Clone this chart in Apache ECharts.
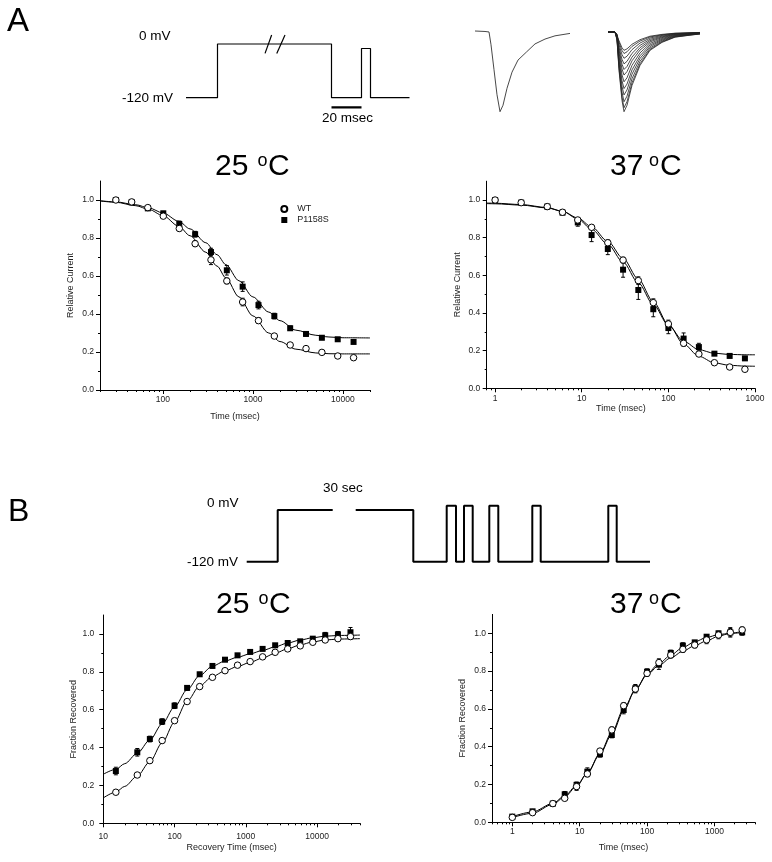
<!DOCTYPE html>
<html><head><meta charset="utf-8">
<script src="https://cdn.jsdelivr.net/npm/echarts@6/dist/echarts.min.js"></script>
<style>html,body{margin:0;padding:0;background:#fff}#c{width:772px;height:862px}</style>
</head><body><div id="c"></div>
<script>
// ---------- Data ----------
// A, 25 C : development of inactivation
const inact25Time = [30,45,68,101,152,228,342,513,769,1153,1730,2595,3892,5839,8758,13137];
const inact25WT = [1.0,0.99,0.96,0.915,0.85,0.77,0.685,0.574,0.463,0.365,0.284,0.237,0.218,0.198,0.179,0.17];
const inact25WTErr = [0.005,0.005,0.008,0.01,0.012,0.015,0.025,0.015,0.02,0.015,0.012,0.01,0.01,0.008,0.008,0.008];
const inact25Mut = [1.0,0.988,0.956,0.93,0.874,0.82,0.726,0.63,0.544,0.447,0.389,0.325,0.295,0.275,0.267,0.253];
const inact25MutErr = [0.005,0.008,0.01,0.01,0.015,0.015,0.02,0.025,0.025,0.02,0.015,0.012,0.01,0.01,0.008,0.008];
const inact25FitTime = [20,30,50,70,100,150,200,300,400,500,700,1000,1500,2000,3000,5000,7000,10000,20000];
const inact25FitWT = [0.995,0.988,0.97,0.95,0.918,0.862,0.812,0.725,0.652,0.59,0.49,0.39,0.3,0.255,0.215,0.195,0.191,0.19,0.19];
const inact25FitMut = [0.996,0.99,0.975,0.958,0.932,0.888,0.848,0.775,0.712,0.66,0.575,0.49,0.41,0.365,0.315,0.288,0.279,0.275,0.274];

// A, 37 C
const inact37Time = [1,2,4,6,9,13,20,30,45,67,100,150,225,340,510,765];
const inact37WT = [1.0,0.986,0.965,0.935,0.894,0.855,0.773,0.681,0.572,0.455,0.342,0.239,0.182,0.136,0.113,0.101];
const inact37WTErr = [0.005,0.005,0.008,0.01,0.012,0.01,0.015,0.015,0.02,0.02,0.02,0.015,0.01,0.008,0.008,0.008];
const inact37Mut = [1.0,0.986,0.965,0.933,0.881,0.814,0.74,0.63,0.522,0.42,0.32,0.264,0.219,0.184,0.172,0.159];
const inact37MutErr = [0.005,0.008,0.012,0.01,0.02,0.035,0.03,0.04,0.05,0.04,0.03,0.03,0.02,0.01,0.01,0.01];
const inact37FitTime = [0.8,1,2,4,6,9,13,20,30,45,67,100,150,225,340,510,765,1000];
const inact37FitWT = [0.981,0.98,0.973,0.958,0.94,0.905,0.858,0.78,0.69,0.58,0.46,0.34,0.235,0.17,0.135,0.122,0.118,0.117];
const inact37FitMut = [0.984,0.983,0.976,0.96,0.94,0.9,0.845,0.765,0.67,0.56,0.445,0.335,0.25,0.205,0.186,0.18,0.178,0.178];

// B, 25 C : recovery from inactivation
const rec25Time = [15,30,45,67,100,150,225,340,510,765,1150,1720,2580,3870,5800,8700,13000,19600,29400];
const rec25Mut = [0.276,0.375,0.445,0.537,0.621,0.715,0.787,0.831,0.864,0.887,0.905,0.921,0.94,0.952,0.961,0.975,0.993,0.998,1.009];
const rec25MutErr = [0.02,0.02,0.015,0.015,0.015,0.012,0.01,0.01,0.01,0.01,0.008,0.008,0.008,0.008,0.008,0.01,0.015,0.015,0.025];
const rec25WT = [0.164,0.255,0.331,0.437,0.542,0.643,0.722,0.771,0.806,0.835,0.854,0.879,0.903,0.921,0.937,0.956,0.968,0.975,0.986];
const rec25WTErr = [0.01,0.01,0.012,0.012,0.01,0.01,0.01,0.008,0.008,0.008,0.008,0.008,0.008,0.008,0.01,0.01,0.01,0.01,0.012];
const rec25FitTime = [10,15,20,30,45,67,100,150,225,340,510,765,1150,1720,2580,3870,5800,8700,13000,20000,40000];
const rec25FitMut = [0.259,0.285,0.315,0.37,0.44,0.525,0.615,0.705,0.78,0.83,0.857,0.877,0.895,0.913,0.932,0.952,0.968,0.98,0.988,0.992,0.994];
const rec25FitWT = [0.134,0.165,0.195,0.25,0.325,0.425,0.535,0.645,0.725,0.775,0.805,0.828,0.85,0.873,0.898,0.922,0.942,0.958,0.968,0.973,0.975];

// B, 37 C
const rec37Time = [1,2,4,6,9,13,20,30,45,67,100,150,225,340,510,765,1150,1720,2580];
const rec37Mut = [0.03,0.058,0.099,0.148,0.198,0.268,0.36,0.462,0.594,0.709,0.797,0.834,0.896,0.935,0.952,0.982,1.0,1.005,1.005];
const rec37MutErr = [0.01,0.01,0.01,0.015,0.015,0.02,0.015,0.015,0.02,0.02,0.015,0.025,0.015,0.015,0.01,0.01,0.01,0.02,0.015];
const rec37WT = [0.026,0.051,0.099,0.127,0.189,0.256,0.377,0.489,0.617,0.705,0.788,0.845,0.885,0.915,0.938,0.965,0.991,1.005,1.018];
const rec37WTErr = [0.01,0.01,0.01,0.01,0.02,0.015,0.01,0.015,0.015,0.02,0.015,0.02,0.015,0.015,0.015,0.02,0.02,0.025,0.015];
const rec37FitMut = [0.03,0.055,0.1,0.14,0.195,0.26,0.36,0.465,0.59,0.7,0.785,0.84,0.885,0.925,0.955,0.978,0.993,1.0,1.003];
const rec37FitWT = [0.025,0.048,0.095,0.135,0.19,0.26,0.365,0.475,0.6,0.7,0.78,0.83,0.87,0.905,0.935,0.96,0.985,1.0,1.01];

// Tick values
const yMajor = [0,0.2,0.4,0.6,0.8,1.0];
const yMinor = [0.1,0.3,0.5,0.7,0.9];
const xMajorA25 = [100,1000,10000];
const xMinorA25 = [20,30,40,50,60,70,80,90,200,300,400,500,600,700,800,900,2000,3000,4000,5000,6000,7000,8000,9000,20000];
const xMajorA37 = [1,10,100,1000];
const xMinorA37 = [0.8,0.9,2,3,4,5,6,7,8,9,20,30,40,50,60,70,80,90,200,300,400,500,600,700,800,900];
const xMajorB25 = [10,100,1000,10000];
const xMinorB25 = [20,30,40,50,60,70,80,90,200,300,400,500,600,700,800,900,2000,3000,4000,5000,6000,7000,8000,9000,20000,30000,40000];
const xMajorB37 = [1,10,100,1000];
const xMinorB37 = [0.5,0.6,0.7,0.8,0.9,2,3,4,5,6,7,8,9,20,30,40,50,60,70,80,90,200,300,400,500,600,700,800,900,2000,3000,4000];

// Voltage protocols (schematic time units, mV)
const protoATime = [0,21,21,97,97,117,117,123,123,149];
const protoAVolt = [-120,-120,0,0,-120,-120,-10,-10,-120,-120];
const protoABreak1 = [[52.7,-21],[57.1,20]];
const protoABreak2 = [[60.5,-21],[66,20]];
const protoAScaleBar = [[97,-141.5],[117,-141.5]];
const protoBTime = [0,31,31,86,'-',109,166.6,166.6,200,200,209.3,209.3,217.3,217.3,226,226,242.6,242.6,251.6,251.6,285.6,285.6,294,294,361.6,361.6,370,370,403.3];
const protoBVolt = [-120,-120,0,0,'-',0,0,-120,-120,10,10,-120,-120,10,10,-120,-120,10,10,-120,-120,10,10,-120,-120,10,10,-120,-120];

// Current traces (ms, normalized current)
const traceTime = [0,2,2.8,3.2,3.8,4.4,5,5.6,6.4,7.4,8.6,10.3,12,14,16,19];
const traceCurrent = [0,-0.006,-0.012,-0.17,-0.48,-0.79,-1.0,-0.92,-0.71,-0.51,-0.36,-0.26,-0.16,-0.1,-0.06,-0.03];
const familyTime = [0,1.4,1.8,2.2,2.8,3.2,3.8,4.8,6.4,8.4,10.8,13.4,16.4,18.4];
const familyShape = [0,0,-0.1,-0.48,-0.86,-1.0,-0.92,-0.67,-0.42,-0.23,-0.13,-0.065,-0.04,-0.025];
const familyPeaks = [0.23,0.27,0.33,0.40,0.47,0.54,0.625,0.71,0.79,0.875,0.95,1.0];

// ---------- Chart ----------
const FONT = '"Liberation Sans", Arial, Helvetica, sans-serif';
const zip = (a, b) => a.map((v, i) => [v, b[i]]);
const zip3 = (a, b, c) => a.map((v, i) => [v, b[i], c[i]]);

const plots = [
  {left:100, top:181, width:270, height:209, min:20, max:20000, major:xMajorA25, minor:xMinorA25,
   xName:'Time (msec)', xGap:22, xMargin:5, yName:'Relative Current', yGap:25, yMargin:6},
  {left:486.7, top:181.2, width:268.3, height:207.1, min:0.8, max:1000, major:xMajorA37, minor:xMinorA37,
   xName:'Time (msec)', xGap:16, xMargin:6, yName:'Relative Current', yGap:25, yMargin:6.5},
  {left:103.3, top:615, width:256.7, height:208.3, min:10, max:40000, major:xMajorB25, minor:xMinorB25,
   xName:'Recovery Time (msec)', xGap:20, xMargin:9, yName:'Fraction Recovered', yGap:25, yMargin:9},
  {left:492, top:614.4, width:263, height:207.9, min:0.5, max:4000, major:xMajorB37, minor:xMinorB37,
   xName:'Time (msec)', xGap:21, xMargin:5, yName:'Fraction Recovered', yGap:25, yMargin:6}
];

const grids = [], xAxes = [], yAxes = [], series = [];
const labelStyle = {fontSize:8.5, color:'#222', fontFamily:FONT};
const nameStyle = {fontSize:9, color:'#222', fontFamily:FONT};

plots.forEach((p, gi) => {
  grids.push({left:p.left, top:p.top, width:p.width, height:p.height, outerBoundsMode:'none', containLabel:false});
  xAxes.push({type:'log', gridIndex:gi, min:p.min, max:p.max, position:'bottom',
    axisLine:{onZero:false, lineStyle:{color:'#000', width:1}}, splitLine:{show:false},
    name:p.xName, nameLocation:'middle', nameGap:p.xGap, nameTextStyle:nameStyle, nameMoveOverlap:false,
    axisTick:{customValues:p.major, length:4, lineStyle:{color:'#000', width:1}},
    minorTick:{show:false},
    axisLabel:{customValues:p.major, margin:p.xMargin, ...labelStyle, formatter:v => String(v)}});
  xAxes.push({type:'log', gridIndex:gi, min:p.min, max:p.max, position:'bottom',
    axisLine:{show:false, onZero:false}, splitLine:{show:false},
    axisTick:{customValues:p.minor, length:2, lineStyle:{color:'#000', width:1}},
    axisLabel:{show:false}});
  yAxes.push({type:'value', gridIndex:gi, min:0, max:1.1, position:'left',
    axisLine:{show:true, onZero:false, lineStyle:{color:'#000', width:1}}, splitLine:{show:false},
    name:p.yName, nameLocation:'middle', nameGap:p.yGap, nameTextStyle:nameStyle, nameMoveOverlap:false,
    axisTick:{show:true, customValues:yMajor, length:4, lineStyle:{color:'#000', width:1}},
    axisLabel:{customValues:yMajor, margin:p.yMargin, ...labelStyle, formatter:v => v.toFixed(1)}});
  yAxes.push({type:'value', gridIndex:gi, min:0, max:1.1, position:'left',
    axisLine:{show:false, onZero:false}, splitLine:{show:false},
    axisTick:{show:true, customValues:yMinor, length:2, lineStyle:{color:'#000', width:1}},
    axisLabel:{show:false}});
});

function errRender(params, api) {
  const x = api.value(0), y = api.value(1), e = api.value(2);
  const t = api.coord([x, y + e]), b = api.coord([x, y - e]);
  const w = 2, st = {stroke:'#000', lineWidth:1};
  return {type:'group', children:[
    {type:'line', shape:{x1:t[0], y1:t[1], x2:b[0], y2:b[1]}, style:st},
    {type:'line', shape:{x1:t[0]-w, y1:t[1], x2:t[0]+w, y2:t[1]}, style:st},
    {type:'line', shape:{x1:b[0]-w, y1:b[1], x2:b[0]+w, y2:b[1]}, style:st}
  ]};
}

function addPlot(gi, fitWT, fitMut, time, wt, wtErr, mut, mutErr) {
  const xi = gi * 2, yi = gi * 2;
  const lineBase = {type:'line', xAxisIndex:xi, yAxisIndex:yi, showSymbol:false, symbol:'none',
    smooth:0.3, smoothMonotone:'x', lineStyle:{color:'#000', width:1}, z:1, silent:true};
  series.push({...lineBase, name:'fitWT' + gi, data:fitWT});
  series.push({...lineBase, name:'fitMut' + gi, data:fitMut});
  series.push({type:'custom', xAxisIndex:xi, yAxisIndex:yi, renderItem:errRender, encode:{x:0, y:1},
    data:zip3(time, wt, wtErr), z:2, silent:true});
  series.push({type:'custom', xAxisIndex:xi, yAxisIndex:yi, renderItem:errRender, encode:{x:0, y:1},
    data:zip3(time, mut, mutErr), z:2, silent:true});
  series.push({type:'scatter', name:'P1158S', xAxisIndex:xi, yAxisIndex:yi, symbol:'rect', symbolSize:6,
    itemStyle:{color:'#000', opacity:1}, data:zip(time, mut), z:3});
  series.push({type:'scatter', name:'WT', xAxisIndex:xi, yAxisIndex:yi, symbol:'circle', symbolSize:6.5,
    itemStyle:{color:'#fff', borderColor:'#000', borderWidth:1, opacity:1}, data:zip(time, wt), z:4});
}

addPlot(0, zip(inact25FitTime, inact25FitWT), zip(inact25FitTime, inact25FitMut),
  inact25Time, inact25WT, inact25WTErr, inact25Mut, inact25MutErr);
addPlot(1, zip(inact37FitTime, inact37FitWT), zip(inact37FitTime, inact37FitMut),
  inact37Time, inact37WT, inact37WTErr, inact37Mut, inact37MutErr);
addPlot(2, zip(rec25FitTime, rec25FitWT), zip(rec25FitTime, rec25FitMut),
  rec25Time, rec25WT, rec25WTErr, rec25Mut, rec25MutErr);
addPlot(3, zip(rec37Time, rec37FitWT), zip(rec37Time, rec37FitMut),
  rec37Time, rec37WT, rec37WTErr, rec37Mut, rec37MutErr);

// schematic grids (hidden axes); returns the axis index shared by x and y
function hiddenGrid(box, xr, yr) {
  const gi = grids.length;
  const ai = xAxes.length;
  grids.push({...box, outerBoundsMode:'none', containLabel:false});
  xAxes.push({type:'value', gridIndex:gi, min:xr[0], max:xr[1], show:false});
  yAxes.push({type:'value', gridIndex:gi, min:yr[0], max:yr[1], show:false});
  return ai;
}
const aProtoA = hiddenGrid({left:186, top:26.1, width:223.5, height:89.5}, [0,149], [-160,40]);
const aTrace = hiddenGrid({left:475, top:31, width:95, height:80.7}, [0,19], [-1,0]);
const aFamily = hiddenGrid({left:608, top:32, width:92, height:79.7}, [0,18.4], [-1,0]);
const aProtoB = hiddenGrid({left:246.7, top:501.4, width:403.3, height:64.6}, [0,403.3], [-130,20]);

function schemLine(ai, data, width, color) {
  series.push({type:'line', xAxisIndex:ai, yAxisIndex:ai, data, showSymbol:false, symbol:'none',
    lineStyle:{color:color || '#000', width}, clip:false, silent:true, connectNulls:false});
}
schemLine(aProtoA, zip(protoATime, protoAVolt), 1.2);
schemLine(aProtoA, protoABreak1, 1.2);
schemLine(aProtoA, protoABreak2, 1.2);
schemLine(aProtoA, protoAScaleBar, 2.2);
schemLine(aTrace, zip(traceTime, traceCurrent), 0.9, '#333');
familyPeaks.forEach(a => schemLine(aFamily, familyTime.map((t, i) => [t, familyShape[i] * a]), 0.8, '#222'));
schemLine(aProtoB, zip(protoBTime, protoBVolt), 2);

// texts
function txt(x, y, text, size, align) {
  return {type:'text', x, y, silent:true, style:{text, fontSize:size, fontFamily:FONT, fill:'#000',
    align:align || 'left', verticalAlign:'middle'}};
}
const graphic = [
  txt(7, 22, 'A', 33), txt(8, 512.5, 'B', 32),
  txt(139, 36.5, '0 mV', 13.5), txt(122, 98, '-120 mV', 13.5), txt(322, 118, '20 msec', 13.5),
  txt(207, 503, '0 mV', 13.5), txt(323, 488, '30 sec', 13.5), txt(187, 562, '-120 mV', 13.5),
  txt(215, 167, '25', 30), txt(257.5, 161, 'o', 18), txt(268, 167, 'C', 30),
  txt(610, 167, '37', 30), txt(649, 161, 'o', 18), txt(660, 167, 'C', 30),
  txt(216, 605, '25', 30), txt(258.5, 599, 'o', 18), txt(269, 605, 'C', 30),
  txt(610, 605, '37', 30), txt(649, 599, 'o', 18), txt(660, 605, 'C', 30)
];

const chart = echarts.init(document.getElementById('c'), null, {renderer:'canvas'});
chart.setOption({
  backgroundColor:'#fff',
  animation:false,
  grid:grids, xAxis:xAxes, yAxis:yAxes, series,
  legend:{show:true, orient:'vertical', left:280.3, top:203.5, itemWidth:16, itemHeight:6, itemGap:0,
    padding:0, selectedMode:false, symbolKeepAspect:true,
    data:[{name:'WT', icon:'circle'}, {name:'P1158S', icon:'path://M0,0L10,0L10,10L0,10Z'}],
    textStyle:{fontSize:9, color:'#222', fontFamily:FONT, lineHeight:11}},
  graphic
});
</script></body></html>
